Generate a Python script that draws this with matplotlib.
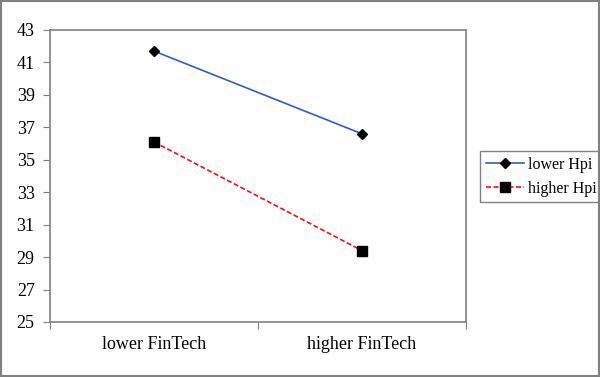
import matplotlib.pyplot as plt
from matplotlib.patches import Rectangle

plt.rcParams['font.family'] = ['Liberation Serif', 'DejaVu Serif']

categories = ['lower FinTech', 'higher FinTech']
lower_hpi = [41.7, 36.6]
higher_hpi = [36.1, 29.4]

fig = plt.figure(figsize=(6, 3.77), dpi=100)
ax = fig.add_axes([50/600, 55/377, 416/600, 292/377])

xs = [0.5, 1.5]
ax.plot(xs, lower_hpi, color='#2f5fbf', lw=1.2, marker='D', ms=5.5,
        mfc='black', mec='black', label='lower Hpi')
ax.plot(xs, higher_hpi, color='#ee1111', lw=1.2, ls=(0, (3, 1.5)), marker='s', ms=6.5,
        mfc='black', mec='black', label='higher Hpi')

ax.set_xlim(0, 2)
ax.set_ylim(25, 43)
ax.set_yticks(range(25, 44, 2))
ax.set_xticks([0, 1, 2])
ax.set_xticklabels([])
ax.set_xticks(xs, minor=True)
ax.set_xticklabels(categories, minor=True)
ax.tick_params(axis='x', which='minor', length=0, pad=10, labelsize=13)
ax.tick_params(axis='x', which='major', length=5, color='#808080')
ax.tick_params(axis='y', length=5, color='#808080', labelsize=13, pad=6)
for s in ax.spines.values():
    s.set_color('#808080')
    s.set_linewidth(1.2)

leg = ax.legend(loc='upper left', bbox_to_anchor=(480/600, 1 - 151/377),
                bbox_transform=fig.transFigure, fontsize=11.5, fancybox=False,
                edgecolor='#808080', framealpha=1, handlelength=2.4,
                borderpad=0.35, labelspacing=0.5, handletextpad=0.25,
                borderaxespad=0)
leg.get_frame().set_linewidth(1.0)

fig.patches.append(Rectangle((0.001, 0.002), 0.997, 0.995, transform=fig.transFigure,
                             fill=False, edgecolor='#808080', lw=1.5))

fig.savefig('out.png', dpi=100)
